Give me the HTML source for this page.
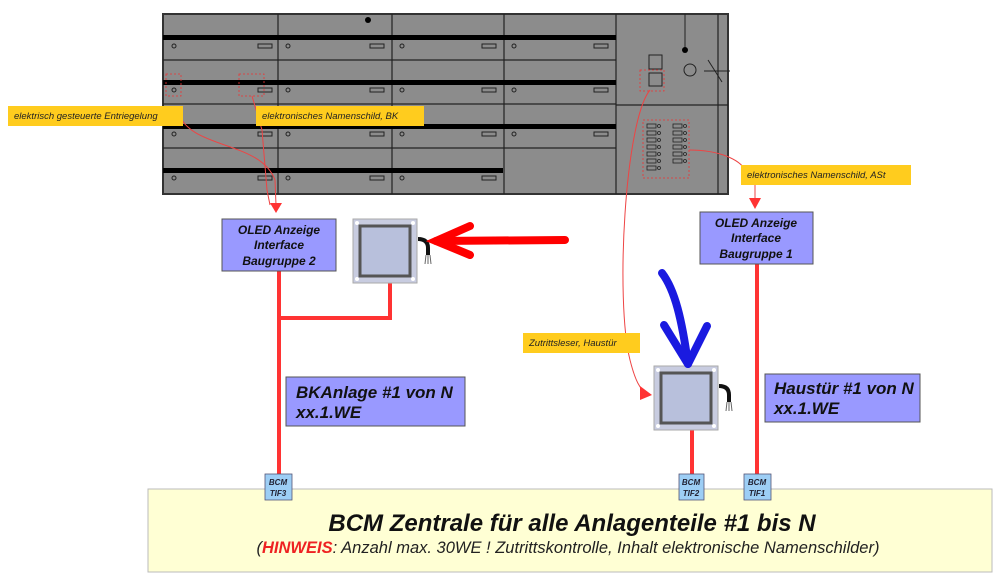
<!DOCTYPE html>
<html><head><meta charset="utf-8"><style>
body{margin:0;background:#fff;width:1000px;height:580px;overflow:hidden;font-family:"Liberation Sans",sans-serif}
</style></head><body>
<svg width="1000" height="580" viewBox="0 0 1000 580" xmlns="http://www.w3.org/2000/svg" font-family="Liberation Sans, sans-serif">
<rect x="163" y="14" width="565" height="180" fill="#8c8c8c" stroke="#333" stroke-width="2"/>
<g stroke="#222" stroke-width="1.2">
<line x1="278" y1="14" x2="278" y2="194"/><line x1="392" y1="14" x2="392" y2="194"/>
<line x1="504" y1="14" x2="504" y2="194"/><line x1="616" y1="14" x2="616" y2="194"/>
<line x1="163" y1="60" x2="616" y2="60"/><line x1="163" y1="104" x2="616" y2="104"/>
<line x1="163" y1="148" x2="616" y2="148"/><line x1="616" y1="105" x2="728" y2="105"/>
<line x1="718" y1="14" x2="718" y2="194"/>
</g>
<g fill="#000">
<rect x="163" y="35" width="453" height="5"/><rect x="163" y="80" width="453" height="5"/>
<rect x="163" y="124" width="453" height="5"/><rect x="163" y="168" width="340" height="5"/>
</g>
<circle cx="368" cy="20" r="3" fill="#000"/>
<g fill="none" stroke="#222" stroke-width="1">
<g id="r"><circle cx="174" cy="46" r="2"/><rect x="258" y="44" width="14" height="4"/>
<circle cx="288" cy="46" r="2"/><rect x="370" y="44" width="14" height="4"/>
<circle cx="402" cy="46" r="2"/><rect x="482" y="44" width="14" height="4"/>
<circle cx="514" cy="46" r="2"/><rect x="594" y="44" width="14" height="4"/></g>
<use href="#r" y="44"/><use href="#r" y="88"/>
<circle cx="174" cy="178" r="2"/><rect x="258" y="176" width="14" height="4"/>
<circle cx="288" cy="178" r="2"/><rect x="370" y="176" width="14" height="4"/>
<circle cx="402" cy="178" r="2"/><rect x="482" y="176" width="14" height="4"/>
<rect x="649" y="55" width="13" height="14"/>
<rect x="649" y="73" width="13" height="13"/>
<circle cx="690" cy="70" r="6"/>
<line x1="704" y1="71" x2="730" y2="71"/><line x1="708" y1="60" x2="722" y2="82"/>
<line x1="685" y1="14" x2="685" y2="48"/>
</g>
<circle cx="685" cy="50" r="3" fill="#000"/>
<g fill="none" stroke="#222" stroke-width="0.8">
<g id="k"><rect x="647" y="124" width="9" height="4"/><circle cx="659" cy="126" r="1.5"/>
<rect x="673" y="124" width="9" height="4"/><circle cx="685" cy="126" r="1.5"/></g>
<use href="#k" y="7"/><use href="#k" y="14"/><use href="#k" y="21"/><use href="#k" y="28"/><use href="#k" y="35"/>
<rect x="647" y="166" width="9" height="4"/><circle cx="659" cy="168" r="1.5"/>
</g>
<g fill="none" stroke="#e33" stroke-width="0.8" stroke-dasharray="2,2">
<rect x="166" y="74" width="15" height="22"/><rect x="239" y="74" width="25" height="22"/>
<rect x="640" y="70" width="24" height="21"/>
<rect x="643" y="120" width="46" height="58"/>
</g>
<g fill="none" stroke="#e44" stroke-width="1">
<path d="M178 112 C190 150 260 140 275 180 L276 205"/>
<path d="M252 96 L262 130 L267 190 L270 205"/>
<path d="M650 90 C625 120 615 300 630 360 C635 380 640 390 648 395"/>
<path d="M689 150 C720 150 740 160 745 170"/>
<path d="M755 185 L755 200"/>
</g>
<g fill="#f33">
<polygon points="270,203 282,203 276,213"/>
<polygon points="749,198 761,198 755,209"/>
<polygon points="640,386 652,395 640,400"/>
</g>
<g font-size="9.5" font-style="italic" fill="#222">
<rect x="8" y="106" width="175" height="20" fill="#ffcc1e"/><text x="14" y="119">elektrisch gesteuerte Entriegelung</text>
<rect x="256" y="106" width="168" height="20" fill="#ffcc1e"/><text x="262" y="119">elektronisches Namenschild, BK</text>
<rect x="741" y="165" width="170" height="20" fill="#ffcc1e"/><text x="747" y="178">elektronisches Namenschild, ASt</text>
<rect x="523" y="333" width="117" height="20" fill="#ffcc1e"/><text x="529" y="346">Zutrittsleser, Haustür</text>
</g>
<g stroke="#f33" stroke-width="4" fill="none">
<path d="M279 271 V474"/><path d="M279 318 H390 V283"/>
<path d="M692 430 V474"/><path d="M757 264 V474"/>
</g>
<g fill="#9999ff" stroke="#555" stroke-width="1">
<rect x="222" y="219" width="114" height="52"/><rect x="700" y="212" width="113" height="52"/>
<rect x="286" y="377" width="179" height="49"/><rect x="765" y="374" width="155" height="48"/>
</g>
<g font-size="12" font-weight="bold" font-style="italic" fill="#111" text-anchor="middle">
<text x="279" y="234">OLED Anzeige</text><text x="279" y="249">Interface</text><text x="279" y="265">Baugruppe 2</text>
<text x="756" y="227">OLED Anzeige</text><text x="756" y="242">Interface</text><text x="756" y="258">Baugruppe 1</text>
</g>
<g font-size="17" font-weight="bold" font-style="italic" fill="#111">
<text x="296" y="398">BKAnlage #1 von N</text><text x="296" y="418">xx.1.WE</text>
<text x="774" y="394">Haustür #1 von N</text><text x="774" y="414">xx.1.WE</text>
</g>
<g id="rd">
<rect x="353" y="219" width="64" height="64" fill="#c8cce0" stroke="#aaa"/>
<rect x="360" y="226" width="50" height="50" fill="#b8c0dc" stroke="#555" stroke-width="3"/>
<circle cx="357" cy="223" r="2" fill="#fff"/><circle cx="413" cy="223" r="2" fill="#fff"/>
<circle cx="357" cy="279" r="2" fill="#fff"/><circle cx="413" cy="279" r="2" fill="#fff"/>
<path d="M418 239 Q428 239 428 248 V255" stroke="#111" stroke-width="4" fill="none"/>
<path d="M426 255 L425 264 M428 255 L428 264 M430 255 L431 264" stroke="#666" stroke-width="1"/>
</g>
<use href="#rd" x="301" y="147"/>
<g stroke="#f00" stroke-width="8" stroke-linecap="round" fill="none">
<path d="M565 240 L436 241"/><path d="M470 226 L436 241 L470 255"/>
</g>
<g stroke="#1a1ae0" stroke-width="8" stroke-linecap="round" stroke-linejoin="round" fill="none">
<path d="M662 273 C675 290 682 320 688 364"/><path d="M664 325 L688 364 L707 326"/>
</g>
<rect x="148" y="489" width="844" height="83" fill="#ffffd4" stroke="#bbb" stroke-width="1"/>
<text x="572" y="531" font-size="24" font-weight="bold" font-style="italic" text-anchor="middle" fill="#111">BCM Zentrale für alle Anlagenteile #1 bis N</text>
<text x="568" y="553" font-size="16.5" font-style="italic" text-anchor="middle" fill="#222">(<tspan fill="#e22" font-weight="bold">HINWEIS</tspan>: Anzahl max. 30WE ! Zutrittskontrolle, Inhalt elektronische Namenschilder)</text>
<g fill="#9dcef5" stroke="#557" stroke-width="0.8">
<rect x="265" y="474" width="27" height="26"/><rect x="679" y="474" width="25" height="26"/><rect x="744" y="474" width="27" height="26"/>
</g>
<g font-size="8" font-style="italic" font-weight="bold" fill="#223" text-anchor="middle">
<text x="278" y="485">BCM</text><text x="278" y="496">TIF3</text>
<text x="691" y="485">BCM</text><text x="691" y="496">TIF2</text>
<text x="757" y="485">BCM</text><text x="757" y="496">TIF1</text>
</g>
</svg>
</body></html>
